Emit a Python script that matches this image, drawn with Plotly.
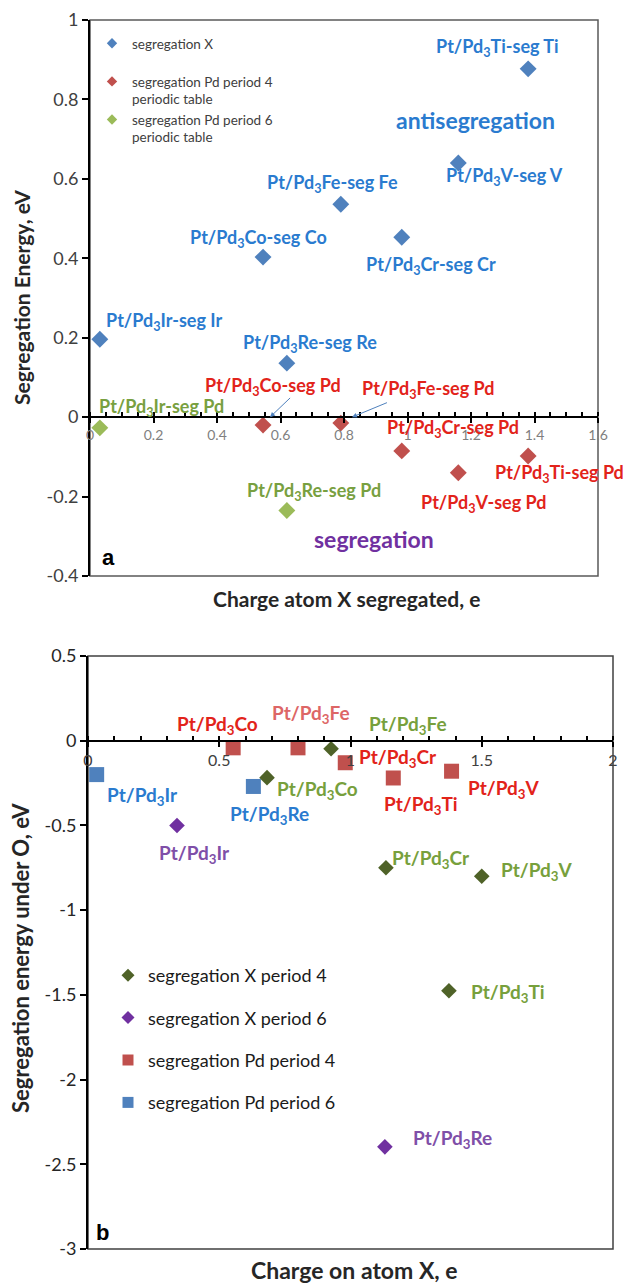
import plotly.graph_objects as go

# ---------------- Panel a data ----------------
a_segX_x = [0.031, 0.62, 0.545, 0.79, 0.982, 1.16, 1.38]
a_segX_y = [0.196, 0.136, 0.403, 0.536, 0.453, 0.64, 0.877]
a_pd4_x = [0.545, 0.79, 0.982, 1.16, 1.38]
a_pd4_y = [-0.02, -0.015, -0.085, -0.14, -0.098]
a_pd6_x = [0.031, 0.62]
a_pd6_y = [-0.027, -0.235]
a_xticks = [0, 0.2, 0.4, 0.6, 0.8, 1, 1.2, 1.4, 1.6]
a_yticks = [-0.4, -0.2, 0, 0.2, 0.4, 0.6, 0.8, 1]
a_yticktext = ["-0.4", "-0.2", "0", "0.2", "0.4", "0.6", "0.8", "1"]

# ---------------- Panel b data ----------------
b_x4_x = [0.682, 0.926, 1.135, 1.50, 1.375]
b_x4_y = [-0.218, -0.047, -0.75, -0.80, -1.476]
b_x6_x = [0.339, 1.131]
b_x6_y = [-0.50, -2.397]
b_pd4_x = [0.553, 0.80, 0.98, 1.163, 1.385]
b_pd4_y = [-0.042, -0.042, -0.13, -0.22, -0.18]
b_pd6_x = [0.033, 0.63]
b_pd6_y = [-0.20, -0.27]
b_xticks = [0, 0.5, 1, 1.5, 2]
b_yticks = [-3, -2.5, -2, -1.5, -1, -0.5, 0, 0.5]
b_yticktext = ["-3", "-2.5", "-2", "-1.5", "-1", "-0.5", "0", "0.5"]

FONT = "Lato"
BLUE_T = "#2a7bcf"
RED_T = "#e2231a"
GREEN_T = "#78a040"

S3 = "<sub>3</sub>"
a_labels = [
    ("Pt/Pd" + S3 + "Ti-seg Ti", 1.285, 0.932, BLUE_T),
    ("Pt/Pd" + S3 + "V-seg V", 1.304, 0.605, BLUE_T),
    ("Pt/Pd" + S3 + "Fe-seg Fe", 0.765, 0.589, BLUE_T),
    ("Pt/Pd" + S3 + "Co-seg Co", 0.53, 0.451, BLUE_T),
    ("Pt/Pd" + S3 + "Cr-seg Cr", 1.074, 0.383, BLUE_T),
    ("Pt/Pd" + S3 + "Ir-seg Ir", 0.236, 0.24, BLUE_T),
    ("Pt/Pd" + S3 + "Re-seg Re", 0.693, 0.186, BLUE_T),
    ("Pt/Pd" + S3 + "Co-seg Pd", 0.575, 0.076, RED_T),
    ("Pt/Pd" + S3 + "Fe-seg Pd", 1.065, 0.07, RED_T),
    ("Pt/Pd" + S3 + "Cr-seg Pd", 1.143, -0.028, RED_T),
    ("Pt/Pd" + S3 + "Ti-seg Pd", 1.48, -0.142, RED_T),
    ("Pt/Pd" + S3 + "V-seg Pd", 1.238, -0.217, RED_T),
    ("Pt/Pd" + S3 + "Re-seg Pd", 0.705, -0.186, GREEN_T),
    ("Pt/Pd" + S3 + "Ir-seg Pd", 0.224, 0.025, GREEN_T),
]

B_RED = "#e2231a"
B_LRED = "#dd6666"
B_GREEN = "#77a03c"
B_BLUE = "#2a7bcf"
B_PURPLE = "#7f4fa8"
b_labels = [
    ("Pt/Pd" + S3 + "Co", 0.495, 0.095, B_RED),
    ("Pt/Pd" + S3 + "Fe", 0.85, 0.16, B_LRED),
    ("Pt/Pd" + S3 + "Fe", 1.22, 0.095, B_GREEN),
    ("Pt/Pd" + S3 + "Cr", 1.18, -0.10, B_RED),
    ("Pt/Pd" + S3 + "V", 1.585, -0.285, B_RED),
    ("Pt/Pd" + S3 + "Ti", 1.27, -0.38, B_RED),
    ("Pt/Pd" + S3 + "Co", 0.876, -0.29, B_GREEN),
    ("Pt/Pd" + S3 + "Re", 0.69, -0.44, B_BLUE),
    ("Pt/Pd" + S3 + "Ir", 0.206, -0.325, B_BLUE),
    ("Pt/Pd" + S3 + "Ir", 0.404, -0.667, B_PURPLE),
    ("Pt/Pd" + S3 + "Cr", 1.307, -0.70, B_GREEN),
    ("Pt/Pd" + S3 + "V", 1.71, -0.77, B_GREEN),
    ("Pt/Pd" + S3 + "Ti", 1.60, -1.49, B_GREEN),
    ("Pt/Pd" + S3 + "Re", 1.387, -2.35, B_PURPLE),
]

W, H = 623, 1284
ax_dom = [90 / W, 598 / W]
ay_dom = [1 - 576 / H, 1 - 20 / H]
bx_dom = [88 / W, 613 / W]
by_dom = [1 - 1249 / H, 1 - 656 / H]
a_zero = ay_dom[0] + (0.4 / 1.4) * (ay_dom[1] - ay_dom[0])
b_zero = by_dom[0] + (3 / 3.5) * (by_dom[1] - by_dom[0])

fig = go.Figure()


def add_series(xs, ys, name, symbol, size, lsize, color, xa, ya, leg, rank):
    # data trace
    fig.add_trace(go.Scatter(x=xs, y=ys, mode="markers", name=name, showlegend=False,
                             marker=dict(symbol=symbol, size=size, color=color),
                             xaxis=xa, yaxis=ya))
    # legend entry (smaller symbol as in the reference)
    fig.add_trace(go.Scatter(x=[None], y=[None], mode="markers", name=name,
                             marker=dict(symbol=symbol, size=lsize, color=color),
                             xaxis=xa, yaxis=ya, legend=leg, legendrank=rank,
                             legendgroup=leg + str(rank)))


add_series(a_segX_x, a_segX_y, "segregation X<br> ", "diamond", 13, 8, "#4f81bd", "x", "y", "legend", 1)
add_series(a_pd4_x, a_pd4_y, "segregation Pd period 4<br>periodic table", "diamond", 13, 8, "#c0504d",
           "x", "y", "legend", 2)
add_series(a_pd6_x, a_pd6_y, "segregation Pd period 6<br>periodic table", "diamond", 13, 8, "#9bbb59",
           "x", "y", "legend", 3)

add_series(b_pd4_x, b_pd4_y, "segregation Pd period 4", "square", 15, 11, "#c0504d", "x2", "y2", "legend2", 3)
add_series(b_pd6_x, b_pd6_y, "segregation Pd period 6", "square", 15, 11, "#4f81bd", "x2", "y2", "legend2", 4)
add_series(b_x4_x, b_x4_y, "segregation X period 4", "diamond", 12, 10, "#4f6228", "x2", "y2", "legend2", 1)
add_series(b_x6_x, b_x6_y, "segregation X period 6", "diamond", 12, 10, "#7030a0", "x2", "y2", "legend2", 2)

ann = []
for t, x, y, c in a_labels:
    ann.append(dict(text="<b>" + t + "</b>", x=x, y=y, xref="x", yref="y", showarrow=False,
                    xanchor="center", yanchor="middle",
                    font=dict(family=FONT, size=18, color=c)))
for t, x, y, c in b_labels:
    ann.append(dict(text="<b>" + t + "</b>", x=x, y=y, xref="x2", yref="y2", showarrow=False,
                    xanchor="center", yanchor="middle",
                    font=dict(family=FONT, size=19, color=c)))
ann.append(dict(text="<b>antisegregation</b>", x=1.213, y=0.748, xref="x", yref="y", showarrow=False,
                font=dict(family=FONT, size=23, color="#2a7bcf")))
ann.append(dict(text="<b>segregation</b>", x=0.894, y=-0.307, xref="x", yref="y", showarrow=False,
                font=dict(family=FONT, size=23, color="#7030a0")))
ann.append(dict(text="<b>a</b>", x=0.057, y=-0.353, xref="x", yref="y", showarrow=False,
                font=dict(family="Liberation Sans", size=22, color="black")))
ann.append(dict(text="<b>b</b>", x=0.057, y=-2.90, xref="x2", yref="y2", showarrow=False,
                font=dict(family="Liberation Sans", size=22, color="black")))
ann.append(dict(text="", x=0.567, y=0.0, ax=0.635, ay=0.052, xref="x", yref="y", axref="x", ayref="y",
                showarrow=True, arrowhead=2, arrowsize=1, arrowwidth=1, arrowcolor="#4f81bd"))
ann.append(dict(text="", x=0.825, y=0.0, ax=0.94, ay=0.038, xref="x", yref="y", axref="x", ayref="y",
                showarrow=True, arrowhead=2, arrowsize=1, arrowwidth=1, arrowcolor="#4f81bd"))
ann.append(dict(text="<b>Segregation Energy, eV</b>", x=22 / W, y=1 - 298 / H, xref="paper", yref="paper",
                xanchor="center", yanchor="middle",
                textangle=-90, showarrow=False, font=dict(family=FONT, size=21, color="#262626")))
ann.append(dict(text="<b>Charge atom X segregated, e</b>", x=346 / W, y=1 - 598 / H, xref="paper",
                yref="paper", xanchor="center", yanchor="middle",
                showarrow=False, font=dict(family=FONT, size=21, color="#262626")))
ann.append(dict(text="<b>Segregation energy under O, eV</b>", x=20 / W, y=1 - 958 / H, xref="paper",
                yref="paper", xanchor="center", yanchor="middle",
                textangle=-90, showarrow=False, font=dict(family=FONT, size=22, color="#262626")))
ann.append(dict(text="<b>Charge on atom X, e</b>", x=354 / W, y=1 - 1270 / H, xref="paper", yref="paper",
                xanchor="center", yanchor="middle",
                showarrow=False, font=dict(family=FONT, size=23, color="#262626")))

shapes = [
    dict(type="rect", xref="x domain", yref="y domain", x0=0, x1=1, y0=0, y1=1,
         line=dict(color="#595959", width=1.5), layer="below"),
    dict(type="rect", xref="x2 domain", yref="y2 domain", x0=0, x1=1, y0=0, y1=1,
         line=dict(color="#404040", width=1.5), layer="below"),
]

common_x = dict(showgrid=False, zeroline=False, showline=True, linecolor="black", linewidth=2,
                ticks="outside", ticklen=5, tickcolor="black", tickwidth=1.5, automargin=False)
common_y = dict(showgrid=False, zeroline=False, showline=True, linecolor="black", linewidth=2,
                ticks="outside", ticklen=6, tickcolor="black", tickwidth=1.5, automargin=False)

fig.update_layout(
    width=W, height=H, margin=dict(l=0, r=0, t=0, b=0),
    paper_bgcolor="white", plot_bgcolor="rgba(0,0,0,0)",
    font=dict(family=FONT),
    xaxis=dict(domain=ax_dom, anchor="free", position=a_zero, range=[0, 1.6], tickvals=a_xticks,
               tickfont=dict(family=FONT, size=14, color="#7f7f7f"),
               minor=dict(dtick=0.05, ticks="inside", ticklen=4, tickcolor="black"), **common_x),
    yaxis=dict(domain=ay_dom, anchor="x", range=[-0.4, 1], tickvals=a_yticks, ticktext=a_yticktext,
               tickfont=dict(family=FONT, size=18, color="#404040"), **common_y),
    xaxis2=dict(domain=bx_dom, anchor="free", position=b_zero, range=[0, 2], tickvals=b_xticks,
                tickfont=dict(family=FONT, size=16, color="#404040"),
                minor=dict(dtick=0.1, ticks="inside", ticklen=4, tickcolor="black"), **common_x),
    yaxis2=dict(domain=by_dom, anchor="x2", range=[-3, 0.5], tickvals=b_yticks, ticktext=b_yticktext,
                tickfont=dict(family=FONT, size=18, color="#262626"), **common_y),
    legend=dict(x=92 / W, y=1 - 28 / H, xanchor="left", yanchor="top", bgcolor="rgba(0,0,0,0)",
                font=dict(family=FONT, size=13.5, color="#404040"), valign="top", tracegroupgap=0,
                itemclick=False),
    legend2=dict(x=108 / W, y=1 - 957 / H, xanchor="left", yanchor="top", bgcolor="rgba(0,0,0,0)",
                 font=dict(family=FONT, size=18, color="#1a1a1a"), tracegroupgap=16,
                 itemclick=False),
    showlegend=True,
    annotations=ann,
    shapes=shapes,
)

fig.write_html("out.html")
